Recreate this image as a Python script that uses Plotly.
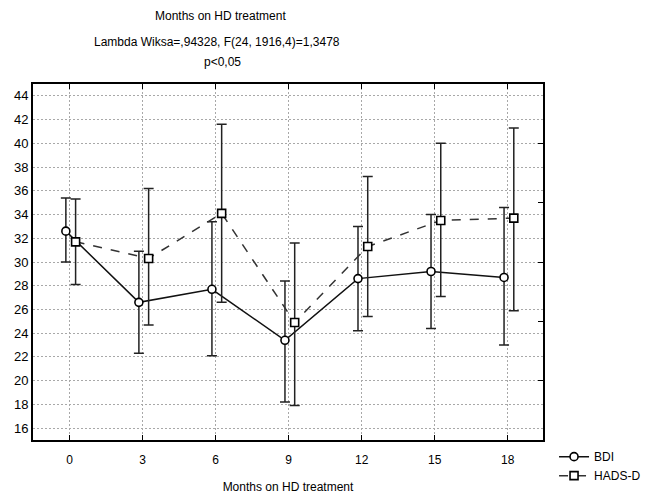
import plotly.graph_objects as go

months = [0, 3, 6, 9, 12, 15, 18]
bdi_mean = [32.6, 26.6, 27.7, 23.4, 28.6, 29.2, 28.7]
bdi_upper = [35.4, 30.9, 33.4, 28.4, 33.0, 34.0, 34.6]
bdi_lower = [30.0, 22.3, 22.1, 18.2, 24.2, 24.4, 23.0]
hads_mean = [31.7, 30.3, 34.1, 24.9, 31.3, 33.5, 33.7]
hads_upper = [35.3, 36.2, 41.6, 31.6, 37.2, 40.0, 41.3]
hads_lower = [28.1, 24.7, 26.6, 17.9, 25.4, 27.1, 25.9]
y_ticks = list(range(16, 45, 2))

FONT = "Liberation Sans, Arial, sans-serif"
BDI_SHIFT = -0.15
HADS_SHIFT = 0.25

fig = go.Figure()

def add_series(name, mean, up, lo, shift, dash, symbol, color):
    fig.add_trace(go.Scatter(
        x=[m + shift for m in months], y=mean, name=name,
        mode="lines+markers",
        line=dict(color=color, width=1.5, dash=dash),
        marker=dict(symbol=symbol, size=8, color="white",
                    line=dict(color="black", width=1.6)),
        error_y=dict(type="data", symmetric=False,
                     array=[u - m for u, m in zip(up, mean)],
                     arrayminus=[m - l for m, l in zip(mean, lo)],
                     color="#222", thickness=1.5, width=5),
    ))

add_series("BDI", bdi_mean, bdi_upper, bdi_lower, BDI_SHIFT, "solid", "circle", "#111")
add_series("HADS-D", hads_mean, hads_upper, hads_lower, HADS_SHIFT, "dash", "square", "#333")

# invisible trace to carry the right-hand tick axis
fig.add_trace(go.Scatter(x=[months[0]], y=[bdi_mean[0]], yaxis="y2",
                         mode="markers", marker=dict(opacity=0),
                         showlegend=False, hoverinfo="skip"))

GRID = dict(showgrid=True, gridcolor="#a8a8a8", griddash="2px,2px", gridwidth=1)

fig.update_layout(
    width=648, height=494,
    margin=dict(l=33, r=105, t=84, b=54),
    paper_bgcolor="white", plot_bgcolor="white",
    font=dict(family=FONT, size=12, color="black"),
    showlegend=True,
    legend=dict(xref="container", yref="container", x=0.855, y=0.105,
                xanchor="left", yanchor="top",
                bgcolor="rgba(0,0,0,0)", font=dict(size=12),
                tracegroupgap=0, itemwidth=30),
    xaxis=dict(range=[-1.5, 19.45], tickvals=months, ticktext=[str(m) for m in months],
               **GRID, automargin=False,
               zeroline=False, showline=True, linecolor="black", linewidth=2,
               mirror="ticks", ticks="inside", ticklen=5, tickcolor="black",
               ticklabelstandoff=8, tickfont=dict(size=12),
               title=dict(text="Months on HD treatment", font=dict(size=12), standoff=16)),
    yaxis=dict(range=[15.0, 45.0], tickvals=y_ticks, **GRID, automargin=False,
               zeroline=False, showline=True, linecolor="black", linewidth=2,
               mirror=True, ticks="", tickfont=dict(size=13)),
    yaxis2=dict(range=[15.0, 45.0], overlaying="y", side="right", dtick=5,
                tick0=0, ticks="inside", ticklen=5, tickcolor="black",
                showticklabels=False, showgrid=False, zeroline=False,
                showline=False, automargin=False),
)

plot_h = 494 - 84 - 54
titles = ["Months on HD treatment", "Lambda Wiksa=,94328, F(24, 1916,4)=1,3478", "p&lt;0,05"]
title_x = [220, 217, 222]
title_y = [16, 42, 62]
for t, xp, yp in zip(titles, title_x, title_y):
    fig.add_annotation(text=t, x=(xp - 33) / 510, y=(494 - 54 - yp) / plot_h,
                       xref="paper", yref="paper", xanchor="center", yanchor="middle",
                       showarrow=False, font=dict(size=12))

fig.write_html("out.html")
